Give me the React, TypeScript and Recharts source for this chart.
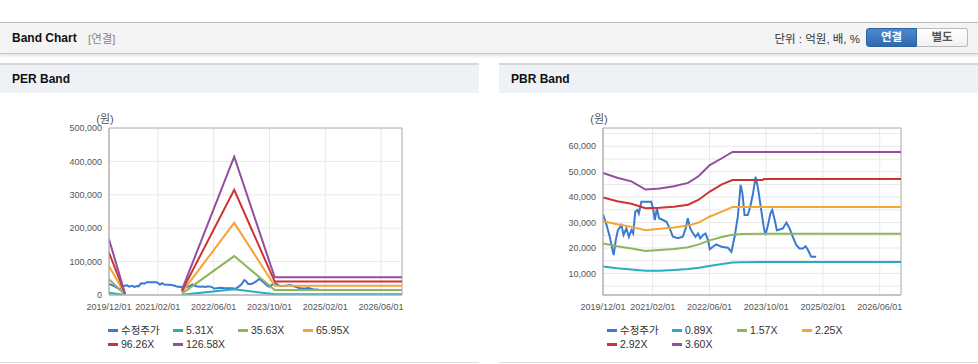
import React from "react";
import { LineChart, Line, XAxis, YAxis, CartesianGrid, ReferenceArea } from "recharts";

// x is months since 2019/12/01
const tickMonths = [0, 14, 30, 46, 62, 78];
const tickLabels = ["2019/12/01", "2021/02/01", "2022/06/01", "2023/10/01", "2025/02/01", "2026/06/01"];

const priceMonths = [
  0, 1, 1.9, 3, 3.6, 4.2, 5.2, 5.8, 6.6, 7.3, 8, 8.5, 9.1, 9.7, 10.1, 10.8, 13.6, 14.1, 14.6, 15.2,
  15.8, 16.9, 17.9, 18.8, 19.7, 21.1, 22.5, 23.3, 23.9, 24.6, 25.4, 26.1, 26.8, 27.4, 28.2, 28.9, 29.6, 30.1, 31, 31.9,
  33.4, 35.2, 36.2, 37.1, 38, 38.8, 39.3, 39.9, 40.8, 41.5, 42.3, 43, 43.7, 44.6, 45.3, 45.8, 46.5, 47.2, 47.7, 48.4,
  49, 49.8, 50.7, 51.7, 52.6, 53.5, 54.5, 55.4, 56.3, 57.1, 57.7, 58.7, 60.1,
];
const priceValues = [
  33200, 29000, 24400, 17200, 23100, 27000, 29000, 25100, 27700, 24400, 27000, 25700, 34300, 34900, 33600, 38200, 38200, 35600, 31000, 35600,
  31700, 31000, 30300, 27700, 24400, 23800, 24400, 27700, 31700, 27700, 25700, 24400, 25700, 23800, 25100, 25700, 23100, 19500, 20500, 21400,
  20500, 20100, 18500, 24400, 32300, 44800, 41500, 33000, 33000, 36200, 41500, 48000, 43500, 34900, 28300, 25100, 29000, 33600, 34900, 31000,
  27000, 27300, 27700, 29900, 27700, 24400, 21100, 19800, 19800, 20700, 19400, 16500, 16500,
];

// PER band (null = negative EPS, no line)
const perBandMonths = [0, 4.6, 12, 20.9, 35.9, 47.5, 84];
const per531 = [7000, 200, null, 600, 17400, 2200, 2200];
const per3563 = [47000, 1100, null, 4200, 116500, 14900, 14900];
const per6595 = [87000, 2100, null, 7800, 216000, 27600, 27600];
const per9626 = [127000, 3000, null, 11400, 315000, 40300, 40300];
const per12658 = [167000, 4000, null, 15000, 414000, 53000, 53000];

// PBR band
const pbrBandMonths = [0, 4, 8, 12, 16, 20, 24, 27, 30, 33.5, 36.5, 39, 45, 45.3, 84];
const pbr089 = [12700, 12000, 11500, 11000, 11000, 11300, 11700, 12200, 12900, 13700, 14300, 14400, 14500, 14500, 14500];
const pbr157 = [21800, 20700, 19800, 18800, 19200, 19600, 20300, 21400, 23000, 24300, 25200, 25500, 25600, 25600, 25600];
const pbr225 = [30500, 29300, 28300, 27000, 27600, 28100, 28800, 30000, 32300, 34300, 36100, 36100, 36100, 36100, 36100];
const pbr292 = [39900, 38400, 37400, 35600, 35800, 36200, 37000, 39000, 42100, 45000, 46700, 46700, 46700, 47100, 47100];
const pbr360 = [49500, 47600, 46200, 43000, 43400, 44300, 45600, 48300, 52500, 55300, 57800, 57800, 57800, 57800, 57800];

const perTicks = [0, 100000, 200000, 300000, 400000, 500000];
const pbrTicks = [5000, 10000, 15000, 20000, 25000, 30000, 35000, 40000, 45000, 50000, 55000, 60000, 65000];

const FONT = "'Liberation Sans', Arial, 'Noto Sans CJK KR', sans-serif";
const COLORS = ["#3a7bd0", "#26adc1", "#8db55a", "#f4a534", "#cc3333", "#934e9f"];

const toPoints = (months: number[], values: (number | null)[]) =>
  months.map((m, i) => ({ m, v: values[i] }));

interface Series {
  name: string;
  points: { m: number; v: number | null }[];
}

const Legend = ({ series }: { series: Series[] }) => (
  <div style={{ display: "flex", flexWrap: "wrap", width: 260 }}>
    {series.map((s, i) => (
      <div key={s.name} style={{ width: 65, height: 14, display: "flex", alignItems: "center" }}>
        <span style={{ width: 10, height: 3, background: COLORS[i], marginRight: 3, display: "inline-block" }} />
        <span style={{ fontSize: 10.5, color: "#333", lineHeight: "14px" }}>{s.name}</span>
      </div>
    ))}
  </div>
);

interface PanelProps {
  title: string;
  left: number;
  series: Series[];
  domain: [number, number];
  ticks: number[];
  fmt: (v: number) => string;
  yWidth: number;
}

const BandPanel = ({ title, left, series, domain, ticks, fmt, yWidth }: PanelProps) => (
  <div style={{ position: "absolute", left, top: 63, width: 479, height: 299, borderBottom: "1px solid #dedede" }}>
    <div
      style={{
        height: 28,
        borderTop: "2px solid #d6d6d6",
        background: "#eef2f7",
        fontWeight: "bold",
        fontSize: 12,
        lineHeight: "28px",
        paddingLeft: 12,
        color: "#111",
      }}
    >
      {title}
    </div>
    <div style={{ position: "absolute", left: yWidth - 16, top: 47, fontSize: 11, color: "#555", width: 24, textAlign: "center" }}>
      (원)
    </div>
    <div style={{ position: "absolute", left: 0, top: 37 }}>
      <LineChart width={479} height={215} margin={{ top: 28, right: 77, bottom: 0, left: 0 }}>
        <CartesianGrid stroke="#e8e8e8" />
        <XAxis
          type="number"
          dataKey="m"
          domain={[0, 84]}
          ticks={tickMonths}
          interval={0}
          allowDataOverflow
          tickFormatter={(v) => tickLabels[tickMonths.indexOf(v)]}
          tick={{ fontSize: 9, fill: "#555", fontFamily: FONT }}
          axisLine={{ stroke: "#b4b4b4" }}
          tickLine={false}
          tickSize={6}
          tickMargin={3}
          height={20}
        />
        <YAxis
          type="number"
          domain={domain}
          ticks={ticks}
          interval={0}
          allowDataOverflow
          tickFormatter={fmt}
          tick={{ fontSize: 9, fill: "#555", fontFamily: FONT }}
          axisLine={{ stroke: "#b4b4b4" }}
          tickLine={false}
          tickSize={4}
          tickMargin={3}
          width={yWidth}
        />
        <ReferenceArea x1={0} x2={84} y1={domain[0]} y2={domain[1]} fill="none" stroke="#b4b4b4" />
        {series.map((s, i) => (
          <Line
            key={s.name}
            data={s.points}
            dataKey="v"
            type="linear"
            stroke={COLORS[i]}
            strokeWidth={2}
            dot={false}
            activeDot={false}
            isAnimationActive={false}
          />
        ))}
      </LineChart>
    </div>
    <div style={{ position: "absolute", left: 108, top: 260 }}>
      <Legend series={series} />
    </div>
  </div>
);

const perSeries: Series[] = [
  { name: "수정주가", points: toPoints(priceMonths, priceValues) },
  { name: "5.31X", points: toPoints(perBandMonths, per531) },
  { name: "35.63X", points: toPoints(perBandMonths, per3563) },
  { name: "65.95X", points: toPoints(perBandMonths, per6595) },
  { name: "96.26X", points: toPoints(perBandMonths, per9626) },
  { name: "126.58X", points: toPoints(perBandMonths, per12658) },
];

const pbrSeries: Series[] = [
  { name: "수정주가", points: toPoints(priceMonths, priceValues) },
  { name: "0.89X", points: toPoints(pbrBandMonths, pbr089) },
  { name: "1.57X", points: toPoints(pbrBandMonths, pbr157) },
  { name: "2.25X", points: toPoints(pbrBandMonths, pbr225) },
  { name: "2.92X", points: toPoints(pbrBandMonths, pbr292) },
  { name: "3.60X", points: toPoints(pbrBandMonths, pbr360) },
];

const App = () => (
  <div style={{ position: "absolute", left: 0, top: 0, width: 978, height: 364, fontFamily: FONT, background: "#fff", overflow: "hidden" }}>
    <div
      style={{
        position: "absolute",
        left: 0,
        top: 22,
        width: 978,
        height: 30,
        background: "#f4f4f4",
        borderTop: "1px solid #bdbdbd",
        borderBottom: "1px solid #c6c6c6",
        boxShadow: "0 2px 3px rgba(0,0,0,0.12)",
      }}
    >
      <span style={{ position: "absolute", left: 12, top: 8, fontSize: 12, fontWeight: "bold", color: "#111" }}>Band Chart</span>
      <span style={{ position: "absolute", left: 88, top: 7, fontSize: 11.5, color: "#888" }}>[연결]</span>
      <span style={{ position: "absolute", right: 118, top: 7, fontSize: 11.5, color: "#333" }}>단위 : 억원, 배, %</span>
      <div
        style={{
          position: "absolute",
          left: 866,
          top: 5,
          width: 51,
          height: 19,
          boxSizing: "border-box",
          background: "linear-gradient(#4b8ad0, #2f69ad)",
          border: "1px solid #2b619f",
          borderRadius: "3px 0 0 3px",
          color: "#fff",
          fontWeight: "bold",
          fontSize: 11.5,
          textAlign: "center",
          lineHeight: "17px",
        }}
      >
        연결
      </div>
      <div
        style={{
          position: "absolute",
          left: 917,
          top: 5,
          width: 51,
          height: 19,
          boxSizing: "border-box",
          background: "linear-gradient(#ffffff, #f1f1f1)",
          border: "1px solid #b9b9b9",
          borderLeft: "none",
          borderRadius: "0 3px 3px 0",
          color: "#555",
          fontWeight: "bold",
          fontSize: 11.5,
          textAlign: "center",
          lineHeight: "17px",
        }}
      >
        별도
      </div>
    </div>
    <BandPanel
      title="PER Band"
      left={0}
      series={perSeries}
      domain={[0, 500000]}
      ticks={perTicks}
      fmt={(v) => v.toLocaleString("en-US")}
      yWidth={109}
    />
    <BandPanel
      title="PBR Band"
      left={499}
      series={pbrSeries}
      domain={[1500, 67200]}
      ticks={pbrTicks}
      fmt={(v) => (v % 10000 === 0 ? v.toLocaleString("en-US") : "")}
      yWidth={104}
    />
  </div>
);

export default App;
